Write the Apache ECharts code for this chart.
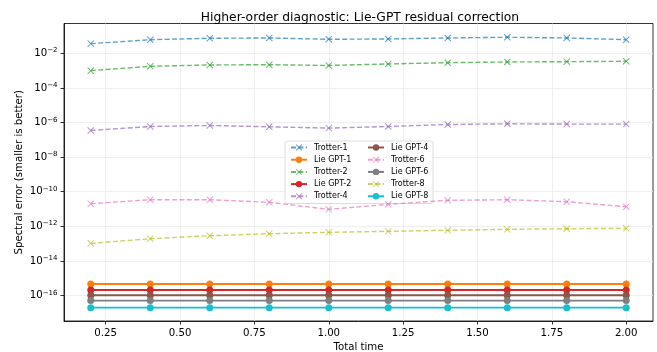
<!DOCTYPE html>
<html>
<head>
<meta charset="utf-8">
<script src="https://cdn.jsdelivr.net/npm/echarts@6/dist/echarts.min.js"></script>
<style>
  html, body {margin: 0; padding: 0; background: #fff;}
  #chart {width: 657px; height: 352px;}
</style>
</head>
<body>
<div id="chart"></div>
<script>
// total time (x)
const times = [0.2, 0.4, 0.6, 0.8, 1.0, 1.2, 1.4, 1.6, 1.8, 2.0];

// spectral errors
const trotter1 = [3.59e-2, 6.1e-2, 7.36e-2, 7.66e-2, 6.44e-2, 6.7e-2, 7.66e-2, 8.39e-2, 7.66e-2, 6.1e-2];
const trotter2 = [9.9e-4, 1.77e-3, 2.11e-3, 2.19e-3, 1.97e-3, 2.41e-3, 2.86e-3, 3.14e-3, 3.27e-3, 3.45e-3];
const trotter4 = [3.45e-7, 5.87e-7, 6.71e-7, 5.65e-7, 4.74e-7, 5.87e-7, 7.66e-7, 8.41e-7, 8.09e-7, 8.09e-7];
const trotter6 = [2.03e-11, 3.45e-11, 3.45e-11, 2.44e-11, 9.6e-12, 1.87e-11, 3.18e-11, 3.45e-11, 2.64e-11, 1.36e-11];
const trotter8 = [1.04e-13, 1.92e-13, 2.86e-13, 3.74e-13, 4.5e-13, 5.14e-13, 5.87e-13, 6.71e-13, 7.26e-13, 7.66e-13];
const lieGpt1 = [4.7e-16, 4.7e-16, 4.7e-16, 4.7e-16, 4.7e-16, 4.7e-16, 4.7e-16, 4.7e-16, 4.7e-16, 4.7e-16];
const lieGpt2 = [2.1e-16, 2.1e-16, 2.1e-16, 2.1e-16, 2.1e-16, 2.1e-16, 2.1e-16, 2.1e-16, 2.1e-16, 2.1e-16];
const lieGpt4 = [1.05e-16, 1.05e-16, 1.05e-16, 1.05e-16, 1.05e-16, 1.05e-16, 1.05e-16, 1.05e-16, 1.05e-16, 1.05e-16];
const lieGpt6 = [5.1e-17, 5.1e-17, 5.1e-17, 5.1e-17, 5.1e-17, 5.1e-17, 5.1e-17, 5.1e-17, 5.1e-17, 5.1e-17];
const lieGpt8 = [2.0e-17, 2.0e-17, 2.0e-17, 2.0e-17, 2.0e-17, 2.0e-17, 2.0e-17, 2.0e-17, 2.0e-17, 2.0e-17];

const xTicks = [0.25, 0.5, 0.75, 1.0, 1.25, 1.5, 1.75, 2.0];
const yTickExps = [-16, -14, -12, -10, -8, -6, -4, -2];

const legendCol1 = ['Trotter-1', 'Lie GPT-1', 'Trotter-2', 'Lie GPT-2', 'Trotter-4'];
const legendCol2 = ['Lie GPT-4', 'Trotter-6', 'Lie GPT-6', 'Trotter-8', 'Lie GPT-8'];

const FONT = 'DejaVu Sans';
const X_MARK = 'path://M0,1L1,0L5,4L9,0L10,1L6,5L10,9L9,10L5,6L1,10L0,9L4,5Z';

function toPairs(vals) {
  return vals.map((v, i) => [times[i], Math.log10(v)]);
}

function trotter(name, vals, color) {
  return {
    type: 'line', name: name, data: toPairs(vals),
    symbol: X_MARK, symbolSize: 7, showAllSymbol: true,
    lineStyle: {color: color, width: 1.4, type: [5, 2.4], opacity: 0.7},
    itemStyle: {color: color, opacity: 0.7},
    emphasis: {disabled: true},
    animation: false
  };
}

function lieGpt(name, vals, color) {
  return {
    type: 'line', name: name, data: toPairs(vals),
    symbol: 'circle', symbolSize: 7, showAllSymbol: true,
    lineStyle: {color: color, width: 1.9},
    itemStyle: {color: color},
    emphasis: {disabled: true},
    animation: false
  };
}

const chart = echarts.init(document.getElementById('chart'));

const legendBase = {
  orient: 'vertical', top: 143.5, padding: 0,
  itemWidth: 16, itemHeight: 8, itemGap: 4.2,
  selectedMode: false,
  textStyle: {fontFamily: FONT, fontSize: 8, color: '#000', lineHeight: 8, padding: [0, 0, 0, 2]}
};

chart.setOption({
  backgroundColor: '#fff',
  animation: false,
  title: {
    text: 'Higher-order diagnostic: Lie-GPT residual correction',
    left: 355, top: 6.5, textAlign: 'center',
    textStyle: {fontFamily: FONT, fontSize: 12.3, fontWeight: 'normal', color: '#000'}
  },
  grid: {left: 64, right: 4, top: 23.5, bottom: 31, outerBoundsMode: 'none', containLabel: false,
    show: true, borderColor: '#000', borderWidth: 0.8, backgroundColor: 'transparent'},
  legend: [
    Object.assign({}, legendBase, {data: legendCol1, left: 290}),
    Object.assign({}, legendBase, {data: legendCol2, left: 367})
  ],
  graphic: [{
    type: 'rect', z: 3,
    shape: {x: 285, y: 141, width: 148, height: 62.5, r: 2},
    style: {fill: 'rgba(255,255,255,0.8)', stroke: '#d4d4d4', lineWidth: 0.8}
  }],
  xAxis: {
    type: 'value', min: 0.11, max: 2.09,
    name: 'Total time', nameLocation: 'middle', nameGap: 21, nameMoveOverlap: false,
    nameTextStyle: {fontFamily: FONT, fontSize: 10.2, color: '#000'},
    axisLine: {show: true, lineStyle: {color: '#000', width: 0.8}},
    axisTick: {show: true, length: 3.5, lineStyle: {color: '#000', width: 0.8}, customValues: xTicks},
    axisLabel: {fontFamily: FONT, fontSize: 10.2, color: '#000', margin: 7, customValues: xTicks,
      formatter: v => v.toFixed(2)},
    splitLine: {show: true, lineStyle: {color: '#ebebeb', width: 0.8}}
  },
  yAxis: {
    type: 'value', min: -17.47, max: -0.28, splitNumber: 9,
    name: 'Spectral error (smaller is better)', nameLocation: 'middle', nameGap: 40, nameMoveOverlap: false,
    nameTextStyle: {fontFamily: FONT, fontSize: 10.2, color: '#000'},
    axisLine: {show: true, lineStyle: {color: '#000', width: 0.8}},
    axisTick: {show: true, length: 3.5, lineStyle: {color: '#000', width: 0.8}, customValues: yTickExps},
    axisLabel: {
      margin: 6.5, customValues: yTickExps,
      formatter: function (v) {
        if (Math.abs(v - Math.round(v)) > 1e-6) return '';
        const e = Math.round(v);
        return '{b|10}{s|' + (e < 0 ? '\u2212' : '') + Math.abs(e) + '}';
      },
      rich: {
        b: {fontFamily: FONT, fontSize: 10.2, color: '#000'},
        s: {fontFamily: FONT, fontSize: 7, color: '#000', padding: [0, 0, 5.5, 0]}
      }
    },
    splitLine: {show: true, lineStyle: {color: '#ebebeb', width: 0.8}}
  },
  series: [
    trotter('Trotter-1', trotter1, '#1f77b4'),
    lieGpt('Lie GPT-1', lieGpt1, '#ff7f0e'),
    trotter('Trotter-2', trotter2, '#2ca02c'),
    lieGpt('Lie GPT-2', lieGpt2, '#d62728'),
    trotter('Trotter-4', trotter4, '#9467bd'),
    lieGpt('Lie GPT-4', lieGpt4, '#8c564b'),
    trotter('Trotter-6', trotter6, '#e377c2'),
    lieGpt('Lie GPT-6', lieGpt6, '#7f7f7f'),
    trotter('Trotter-8', trotter8, '#bcbd22'),
    lieGpt('Lie GPT-8', lieGpt8, '#17becf')
  ]
});
</script>
</body>
</html>
